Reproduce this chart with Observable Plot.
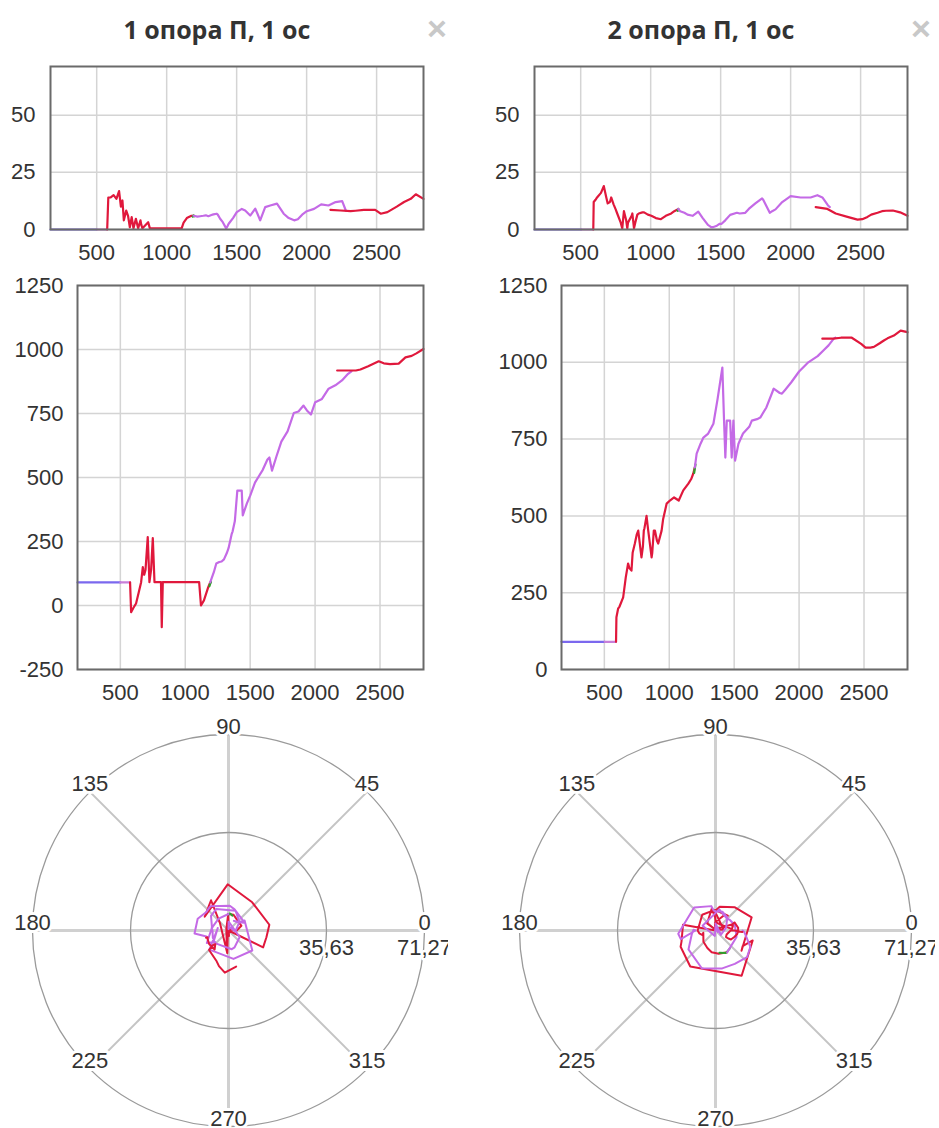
<!DOCTYPE html>
<html><head><meta charset="utf-8">
<script src="https://cdn.jsdelivr.net/npm/d3@7"></script>
<script src="https://cdn.jsdelivr.net/npm/@observablehq/plot@0.6"></script>
<style>
html,body{margin:0;padding:0;background:#fff;width:939px;height:1128px;overflow:hidden;font-family:"Liberation Sans",Arial,sans-serif;}
.panel{position:absolute;top:0;width:484px;height:1128px;}
.title{position:absolute;top:12px;left:0;width:434px;text-align:center;font-family:"Open Sans",sans-serif;font-weight:700;font-size:25px;color:#333;line-height:34px;}
.close{position:absolute;top:8px;left:425px;width:24px;text-align:center;font-family:"Liberation Sans",Arial,sans-serif;font-weight:700;font-size:34px;color:#c8c8c8;line-height:40px;}
.chart{position:absolute;left:0;}
</style>
</head><body>
<div id="root"></div>
<script>
// ---------- data ----------
const panelTitles = ["1 опора П, 1 ос", "2 опора П, 1 ос"];
const xTicks = [500, 1000, 1500, 2000, 2500];
const xDomain = [170, 2835];
const yTicksTop = [0, 25, 50];
const rMax = 71.27;
const yTicksMidLeft = [-250, 0, 250, 500, 750, 1000, 1250];
const yTicksMidRight = [0, 250, 500, 750, 1000, 1250];
const angleTicks = [0, 45, 90, 135, 180, 225, 270, 315];
const radialTicks = [35.63, 71.27];
const radialLabels = ["35,63", "71,27"];
const segColors = ["#7b68ee", "#c77fd9", "#e0183c", "#2ca02c", "#c46ae6", "#e0183c"];

// left panel: time, magnitude, angle, segment id
const leftT = [170,500, 500,575,
  575,583,600,621,641,660,673,684,694,711,724,737,750,763,780,796,813,819,827,868,880,1107,1121,1144,1177,1192,
  1186,1192,1198,
  1192,1220,1239,1262,1280,1298,1320,1334,1358,1365,1382,1401,1425,1435,1443,1474,1501,1537,1561,1597,1633,1648,1668,1704,1740,1788,1836,1872,1911,1937,1968,2001,2053,2104,2156,2207,2254,2280,
  2170,2242,2314,2349,2409,2490,2529,2577,2644,2696,2744,2780,2835];
const leftR = [0,0, 0,0,
  0,14,14,15,13.4,16.8,10,12.7,4,8.3,6,1,5.4,0.5,4.7,0.5,4,2,0.5,3.2,0.5,0.5,3,5,6,6,
  5.6,6.2,5.8,
  6,5.6,5.8,6,6.2,5.8,6.3,6.6,6.9,6.5,4.7,3.2,0.5,1.5,2.5,5,7.6,9,8.3,6.1,9.1,7,4,9.8,10.5,11.3,6.9,5,4,4.5,6.5,8,9,11,10.5,12,12.4,8.3,
  8.6,8.3,8,8.2,8.6,8.6,6.9,7.6,10,12,13.4,15.4,13.4];
const leftA = [90,90, 90,90,
  90,-26,-10,8,50,91,150,120,140,267,91,140,263,91,91,91,91,-85,91,91,91,91,0,20,72,90,
  75,85,92,
  90,130,164,170,172,180,205,225,280,290,330,449,449,449,352,398,430,480,500,530,570,578,527,585,640,680,752,758,781,762,746,794,807,847,860,879,905,915,
  918,918,918,922,935,954,946,943,945,969,975,985,1002];
const leftS = [0,0, 1,1,
  2,2,2,2,2,2,2,2,2,2,2,2,2,2,2,2,2,2,2,2,2,2,2,2,2,2,
  3,3,3,
  4,4,4,4,4,4,4,4,4,4,4,4,4,4,4,4,4,4,4,4,4,4,4,4,4,4,4,4,4,4,4,4,4,4,4,4,4,4,
  5,5,5,5,5,5,5,5,5,5,5,5,5];

// right panel
const rightT = [170,503, 503,590,
  590,593,606,617,645,665,683,693,709,718,735,750,761,786,797,804,809,825,833,838,864,869,881,890,905,915,941,953,980,1005,1037,1073,1108,1147,1169,1185,1197,
  1192,1197,1202,
  1197,1211,1241,1263,1300,1340,1372,1409,1422,1432,1443,1469,1481,1494,1507,1533,1568,1616,1636,1676,1701,1748,1796,1804,1851,1868,1892,1940,2000,2071,2143,2191,2227,2267,2280,
  2179,2263,2322,2406,2478,2512,2549,2576,2621,2653,2681,2730,2782,2835];
const rightR = [0,0, 0,0,
  0,12,13,14,16,19,14,11.4,12,14,11,8.8,7,3,0.5,5,8,4,0.5,3,6,7,0.5,3,6.5,7,7.5,7.5,6.5,6,5,4.5,6,7,8,8.5,9,
  8.2,9,8.4,
  9,8,7.3,6.5,6,7.8,5,2,1.5,1,1,1.5,2,2.5,2.5,4,6.4,7.3,7,7.3,9,11.4,13.6,13,7.3,8,8.8,12,14.6,14,14,15,14,10.5,9.8,
  9.8,9,7,5.5,4.3,4.5,5.5,6.5,7.3,8,8.2,8.3,7.5,6];
const rightA = [90,90, 90,90,
  90,170,198,205,235,300,345,330,322,380,410,440,452,365,400,452,460,500,470,452,365,380,452,452,420,410,452,490,540,550,560,550,583,605,620,638,658,
  640,655,668,
  658,703,735,755,768,800,880,983,810,690,810,810,690,810,680,735,768,790,810,815,820,853,905,914,900,898,910,935,970,1000,1020,1040,1055,1077,1080,
  1077,1077,1080,1080,1060,1048,1048,1050,1062,1071,1078,1087,1103,1098];
const rightS = [0,0, 1,1,
  2,2,2,2,2,2,2,2,2,2,2,2,2,2,2,2,2,2,2,2,2,2,2,2,2,2,2,2,2,2,2,2,2,2,2,2,2,
  3,3,3,
  4,4,4,4,4,4,4,4,4,4,4,4,4,4,4,4,4,4,4,4,4,4,4,4,4,4,4,4,4,4,4,4,4,4,4,
  5,5,5,5,5,5,5,5,5,5,5,5,5,5];

// ---------- build ----------
const rad = Math.PI / 180;
function rowsOf(T, R, A, S) {
  return T.map((t, i) => ({
    t, r: R[i], a: A[i], seg: S[i], color: segColors[S[i]],
    px: R[i] * Math.cos(A[i] * rad), py: R[i] * Math.sin(A[i] * rad)
  }));
}
const FONT = '"Liberation Sans", Arial, sans-serif';
const baseStyle = {fontSize: "22px", fontFamily: FONT, color: "#333", background: "transparent"};

function topChart(rows) {
  return Plot.plot({
    width: 470, height: 230, marginLeft: 50, marginRight: 47, marginTop: 26, marginBottom: 41,
    style: baseStyle,
    x: {domain: xDomain, ticks: xTicks, tickSize: 0, tickPadding: 15, label: null, tickFormat: d => String(d)},
    y: {domain: [0, rMax], ticks: yTicksTop, tickSize: 0, tickPadding: 15, label: null, tickFormat: d => String(d)},
    color: {type: "identity"},
    marks: [
      Plot.ruleX(xTicks, {stroke: "#d4d4d4", strokeWidth: 1.5}),
      Plot.ruleY(yTicksTop, {stroke: "#d4d4d4", strokeWidth: 1.5}),
      Plot.line(rows, {x: "t", y: "r", z: "seg", stroke: "color", strokeWidth: 2.2}),
      Plot.frame({stroke: "#6a6a6a", strokeWidth: 2})
    ]
  });
}
function midChart(rows, yDomain, yTicks) {
  return Plot.plot({
    width: 470, height: 440, marginLeft: 77, marginRight: 47, marginTop: 15, marginBottom: 41,
    style: baseStyle,
    x: {domain: xDomain, ticks: xTicks, tickSize: 0, tickPadding: 15, label: null, tickFormat: d => String(d)},
    y: {domain: yDomain, ticks: yTicks, tickSize: 0, tickPadding: 14, label: null, tickFormat: d => String(d)},
    color: {type: "identity"},
    marks: [
      Plot.ruleX(xTicks, {stroke: "#d4d4d4", strokeWidth: 1.5}),
      Plot.ruleY(yTicks, {stroke: "#d4d4d4", strokeWidth: 1.5}),
      Plot.line(rows, {x: "t", y: "a", z: "seg", stroke: "color", strokeWidth: 2.2}),
      Plot.frame({stroke: "#6a6a6a", strokeWidth: 2})
    ]
  });
}
function polarChart(rows) {
  const R = rMax;
  const main = angleTicks.filter(d => d % 90 === 0);
  const diag = angleTicks.filter(d => d % 90 !== 0);
  return Plot.plot({
    width: 448, height: 416, marginLeft: 32, marginRight: 24, marginTop: 22, marginBottom: 2,
    style: {...baseStyle, overflow: "hidden"},
    x: {domain: [-R, R], axis: null},
    y: {domain: [-R, R], axis: null},
    r: {type: "linear", domain: [0, R], range: [0, 196]},
    color: {type: "identity"},
    marks: [
      Plot.link(diag, {x1: 0, y1: 0, x2: d => R * Math.cos(d * rad), y2: d => R * Math.sin(d * rad), stroke: "#c4c4c4", strokeWidth: 2}),
      Plot.link(main, {x1: 0, y1: 0, x2: d => R * Math.cos(d * rad), y2: d => R * Math.sin(d * rad), stroke: "#d0d0d0", strokeWidth: 3}),
      Plot.dot(radialTicks, {x: 0, y: 0, r: d => d, stroke: "#9a9a9a", strokeWidth: 1.3, fill: "none"}),
      Plot.line(rows, {x: "px", y: "py", z: "seg", stroke: "color", strokeWidth: 2}),
      Plot.text(angleTicks, {x: d => R * Math.cos(d * rad), y: d => R * Math.sin(d * rad), text: d => String(d), dy: -8, fill: "#333", stroke: "white", strokeWidth: 6, fontSize: 22}),
      Plot.text(radialTicks, {x: d => d, y: 0, text: (d, i) => radialLabels[i], dy: 17, fill: "#333", stroke: "white", strokeWidth: 5, fontSize: 22})
    ]
  });
}

const panels = [
  {left: 0, polarLeft: 0, rows: rowsOf(leftT, leftR, leftA, leftS), yDomain: [-250, 1250], yTicks: yTicksMidLeft},
  {left: 484, polarLeft: 487, rows: rowsOf(rightT, rightR, rightA, rightS), yDomain: [0, 1250], yTicks: yTicksMidRight}
];
const root = document.getElementById("root");
panels.forEach((p, i) => {
  const panel = document.createElement("div");
  panel.className = "panel";
  panel.style.left = p.left + "px";
  const title = document.createElement("div");
  title.className = "title"; title.textContent = panelTitles[i];
  const close = document.createElement("div");
  close.className = "close"; close.textContent = "×";
  panel.append(title, close);
  const t = topChart(p.rows); t.classList.add("chart"); t.style.top = "40px";
  const m = midChart(p.rows, p.yDomain, p.yTicks); m.classList.add("chart"); m.style.top = "270px";
  const pc = polarChart(p.rows); pc.classList.add("chart"); pc.style.top = "712px"; pc.style.left = (p.polarLeft - p.left) + "px";
  panel.append(t, m, pc);
  root.append(panel);
});
</script>
</body></html>
